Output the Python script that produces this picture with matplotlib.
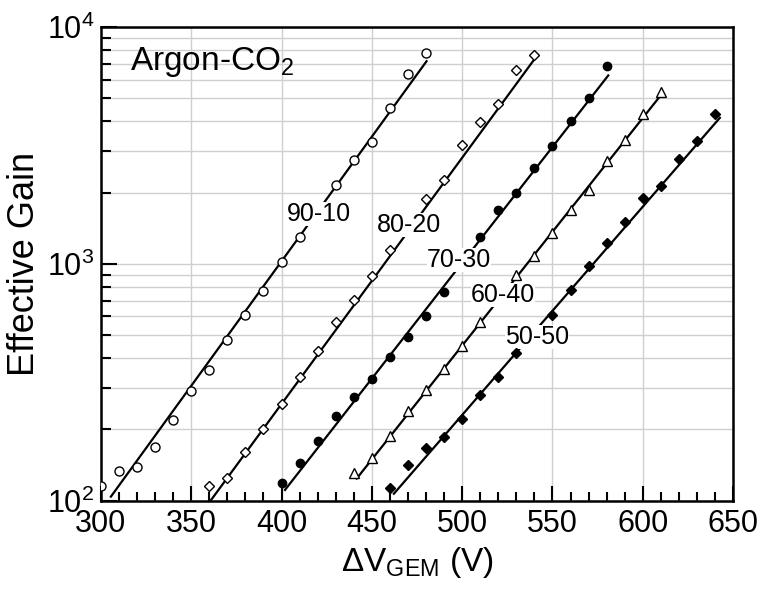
import numpy as np
import matplotlib as mpl
import matplotlib.pyplot as plt
from matplotlib.ticker import MultipleLocator, LogLocator, NullFormatter

mpl.rc('font', family=['Liberation Sans', 'DejaVu Sans'])
mpl.rc('mathtext', fontset='custom', rm='Liberation Sans',
       it='Liberation Sans:italic', bf='Liberation Sans:bold')

# measured points (gas mixture Ar-CO2)
v_9010 = [300, 310, 320, 330, 340, 350, 360, 370, 380, 390, 400, 410, 430, 440, 450, 460, 470, 480]
g_9010 = [115, 133, 139, 169, 219, 291, 355, 475, 609, 765, 1014, 1294, 2148, 2760, 3268, 4550, 6330, 7800]

v_8020 = [360, 370, 380, 390, 400, 410, 420, 430, 440, 450, 460, 480, 490, 500, 510, 520, 530, 540]
g_8020 = [115, 125, 160, 201, 256, 333, 430, 566, 706, 885, 1148, 1880, 2270, 3170, 3980, 4750, 6580, 7640]

v_7030 = [400, 410, 420, 430, 440, 450, 460, 470, 480, 490, 510, 520, 530, 540, 550, 560, 570, 580]
g_7030 = [119, 144, 178, 228, 273, 326, 403, 489, 600, 758, 1300, 1694, 1995, 2543, 3140, 4010, 5020, 6840]

v_6040 = [440, 450, 460, 470, 480, 490, 500, 510, 530, 540, 550, 560, 570, 580, 590, 600, 610]
g_6040 = [131, 151, 188, 239, 294, 360, 452, 568, 899, 1076, 1352, 1683, 2046, 2711, 3350, 4276, 5330]

v_5050 = [460, 470, 480, 490, 500, 510, 520, 530, 550, 560, 570, 580, 590, 600, 610, 620, 630, 640]
g_5050 = [113, 142, 167, 185, 221, 280, 333, 420, 610, 778, 982, 1225, 1499, 1900, 2142, 2787, 3320, 4316]

# fitted lines, end points
fit_v = {'90-10': [305.5, 480.3], '80-20': [360.7, 541.2], '70-30': [401.9, 580.9],
         '60-40': [441.6, 609.5], '50-50': [462.2, 642.7]}
fit_g = {'90-10': [104, 7180], '80-20': [100, 7530], '70-30': [111, 6250],
         '60-40': [124, 5100], '50-50': [107, 4140]}

# label anchor points
label_v = {'90-10': 420.7, '80-20': 470.5, '70-30': 498.2, '60-40': 522.6, '50-50': 541.4}
label_g = {'90-10': 1629, '80-20': 1466, '70-30': 1038, '60-40': 738, '50-50': 492}

series = [
    ('90-10', v_9010, g_9010, 'o', 'white', 6.5),
    ('80-20', v_8020, g_8020, 'D', 'white', 5.5),
    ('70-30', v_7030, g_7030, 'o', 'black', 6.0),
    ('60-40', v_6040, g_6040, '^', 'white', 7.5),
    ('50-50', v_5050, g_5050, 'D', 'black', 5.0),
]

fig = plt.figure(figsize=(7.62, 5.90), dpi=100)
ax = fig.add_axes([0.1325, 0.1514, 0.8295, 0.8026])

for name, v, g, mk, fc, ms in series:
    ax.plot(fit_v[name], fit_g[name], color='black', lw=1.6, zorder=2)
    ax.plot(v, g, ls='none', marker=mk, ms=ms, mfc=fc, mec='black', mew=1.0, zorder=4)
    ax.text(label_v[name], label_g[name], name, fontsize=18, ha='center', va='center',
            zorder=3, bbox=dict(facecolor='white', edgecolor='none', pad=0))

ax.text(0.046, 0.909, 'Argon-CO$_2$', transform=ax.transAxes, fontsize=24,
        ha='left', va='baseline')

ax.set_yscale('log')
ax.set_xlim(300, 650)
ax.set_ylim(100, 10000)

ax.xaxis.set_major_locator(MultipleLocator(50))
ax.xaxis.set_minor_locator(MultipleLocator(10))
ax.yaxis.set_major_locator(LogLocator(base=10))
ax.yaxis.set_minor_locator(LogLocator(base=10, subs=np.arange(2, 10)))
ax.yaxis.set_minor_formatter(NullFormatter())

ax.grid(which='major', axis='x', color='#cfcfcf', lw=1.0, zorder=0)
ax.grid(which='both', axis='y', color='#cfcfcf', lw=1.0, zorder=0)
ax.set_axisbelow(True)

for s in ax.spines.values():
    s.set_linewidth(1.8)

ax.tick_params(axis='x', which='both', direction='in', top=False, labelsize=22, pad=6, width=1.5)
ax.tick_params(axis='x', which='major', length=10.5)
ax.tick_params(axis='x', which='minor', length=6.5)
ax.tick_params(axis='y', which='both', direction='in', right=False, labelsize=22, pad=5, width=1.5)
ax.tick_params(axis='y', which='major', length=11.5)
ax.tick_params(axis='y', which='minor', length=7.5)

ax.set_xlabel(r'$\Delta$V$_{\rm GEM}$ (V)', fontsize=24, labelpad=4)
ax.set_ylabel('Effective Gain', fontsize=26, labelpad=3)

fig.savefig('out.png', dpi=100)
